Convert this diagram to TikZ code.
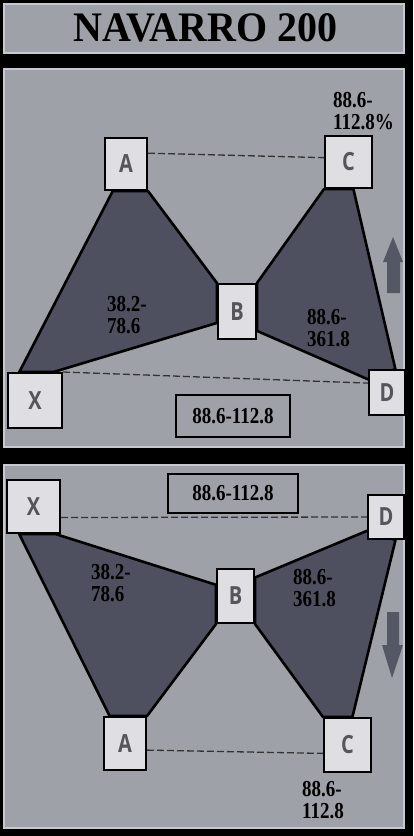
\documentclass[tikz,border=0pt]{standalone}
\usepackage{fontspec}
\setmainfont{Liberation Serif}
\newfontfamily\boxfont{Open Sans}
\usetikzlibrary{calc}
\pgfdeclarelayer{bg}
\pgfdeclarelayer{mid}
\pgfsetlayers{bg,mid,main}
\definecolor{panelgray}{RGB}{159,161,169}
\definecolor{wingfill}{RGB}{78,80,96}
\definecolor{boxfill}{RGB}{222,222,227}
\definecolor{lettergray}{RGB}{85,85,92}
\definecolor{arrowgray}{RGB}{84,87,100}
\definecolor{edgegray}{RGB}{200,201,206}
\newcommand\tallbox[1]{\scalebox{1}[1.25]{#1}}
\newcommand\tallnum[1]{\scalebox{1}[1.2]{#1}}
\tikzset{
  panel/.style={fill=panelgray, draw=edgegray, line width=1.2pt},
  point/.style={draw=black, line width=2pt, fill=boxfill, inner sep=0pt,
    font=\boxfont\bfseries\fontsize{20}{20}\selectfont, text=lettergray},
  wing/.style={fill=wingfill, draw=black, line width=2.6pt, line join=round},
  level/.style={draw=black!80, line width=1.3pt, dash pattern=on 7pt off 3pt},
  ratio/.style={font=\bfseries\fontsize{19}{22}\selectfont, align=left, inner sep=0pt, anchor=west},
  ratiobox/.style={draw=black, line width=1.5pt, inner sep=0pt, font=\bfseries\fontsize{19}{19}\selectfont},
  trend/.style={fill=arrowgray},
}
\begin{document}
\begin{tikzpicture}[x=1pt,y=-1pt]
        % background and panels
        \begin{pgfonlayer}{bg}
        \fill[black] (0,0) rectangle (413,836);
        \filldraw[panel] (4,4) rectangle (404,53);
        \filldraw[panel] (4,69) rectangle (404,447);
        \filldraw[panel] (4,465) rectangle (404,828);
        \end{pgfonlayer}
        \node[font=\bfseries\fontsize{40}{40}\selectfont] (title) at (205.5,28) {\scalebox{1}[1.05]{NAVARRO 200}};
        % upper pattern (bullish)
        \node[point, minimum width=42pt, minimum height=52pt] (uA) at (126,164) {\tallbox{A}};
        \node[point, minimum width=47pt, minimum height=52pt] (uC) at (348.5,162) {\tallbox{C}};
        \node[point, minimum width=38pt, minimum height=55pt] (uB) at (237,311.5) {\tallbox{B}};
        \node[point, minimum width=54pt, minimum height=55pt] (uX) at (35,400.5) {\tallbox{X}};
        \node[point, minimum width=36pt, minimum height=45pt] (uD) at (387,392.5) {\tallbox{D}};
        \begin{pgfonlayer}{mid}
        \filldraw[wing] ($(uX.north west)!0.22!(uX.north east)$) -- ($(uA.south west)!0.2!(uA.south east)$) -- (uA.south east)
            -- (uB.north west) -- ($(uB.north west)!0.7!(uB.south west)$) -- ($(uX.north west)!0.83!(uX.north east)$) -- cycle;
        \filldraw[wing] (uB.north east) -- (uC.south west) -- ($(uC.south west)!0.6!(uC.south east)$)
            -- ($(uD.north west)!0.72!(uD.north east)$) -- ($(uD.north west)!0.22!(uD.south west)$)
            -- ($(uB.north east)!0.84!(uB.south east)$) -- cycle;
        \draw[level] ($(uA.north east)!0.3!(uA.south east)$) -- ($(uC.north west)!0.42!(uC.south west)$);
        \draw[level] (uX.north east) -- ($(uD.north west)!0.3!(uD.south west)$);
        \end{pgfonlayer}
        \node[ratiobox, minimum width=114pt, minimum height=42pt] (uR) at (233,416) {\tallnum{88.6-112.8}};
        \node[ratio] (uCr) at (333,111) {\tallnum{88.6-}\\\tallnum{112.8\%}};
        \node[ratio] (uBr) at (107,315) {\tallnum{38.2-}\\\tallnum{78.6}};
        \node[ratio] (uDr) at (307,328) {\tallnum{88.6-}\\\tallnum{361.8}};
        \fill[trend] (387,293) -- (387,262) -- (383,262) -- (393,237) -- (403,262) -- (400,262) -- (400,293) -- cycle;
        % lower pattern (bearish)
        \node[point, minimum width=53pt, minimum height=53pt] (lX) at (33.5,506.5) {\tallbox{X}};
        \node[point, minimum width=36pt, minimum height=44pt] (lD) at (386,517) {\tallbox{D}};
        \node[point, minimum width=37pt, minimum height=54pt] (lB) at (235.5,596) {\tallbox{B}};
        \node[point, minimum width=42pt, minimum height=53pt] (lA) at (125,743.5) {\tallbox{A}};
        \node[point, minimum width=47pt, minimum height=54pt] (lC) at (347.5,745) {\tallbox{C}};
        \begin{pgfonlayer}{mid}
        \filldraw[wing] ($(lX.south west)!0.24!(lX.south east)$) -- ($(lA.north west)!0.15!(lA.north east)$) -- (lA.north east)
            -- (lB.south west) -- ($(lB.north west)!0.3!(lB.south west)$) -- ($(lX.south west)!0.9!(lX.south east)$) -- cycle;
        \filldraw[wing] ($(lB.north east)!0.17!(lB.south east)$) -- ($(lD.north west)!0.8!(lD.south west)$)
            -- ($(lD.south west)!0.75!(lD.south east)$) -- ($(lC.north west)!0.6!(lC.north east)$)
            -- (lC.north west) -- (lB.south east) -- cycle;
        \draw[level] ($(lX.north east)!0.7!(lX.south east)$) -- (lD.west);
        \draw[level] ($(lA.north east)!0.62!(lA.south east)$) -- ($(lC.north west)!0.65!(lC.south west)$);
        \end{pgfonlayer}
        \node[ratiobox, minimum width=130pt, minimum height=39pt] (lR) at (233,493.5) {\tallnum{88.6-112.8}};
        \node[ratio] (lBr) at (91,583) {\tallnum{38.2-}\\\tallnum{78.6}};
        \node[ratio] (lDr) at (293,588) {\tallnum{88.6-}\\\tallnum{361.8}};
        \node[ratio] (lCr) at (302,800) {\tallnum{88.6-}\\\tallnum{112.8}};
        \fill[trend] (387,612) -- (387,645) -- (382,645) -- (392,678) -- (403,645) -- (399,645) -- (399,612) -- cycle;
    \end{tikzpicture}
\end{document}
